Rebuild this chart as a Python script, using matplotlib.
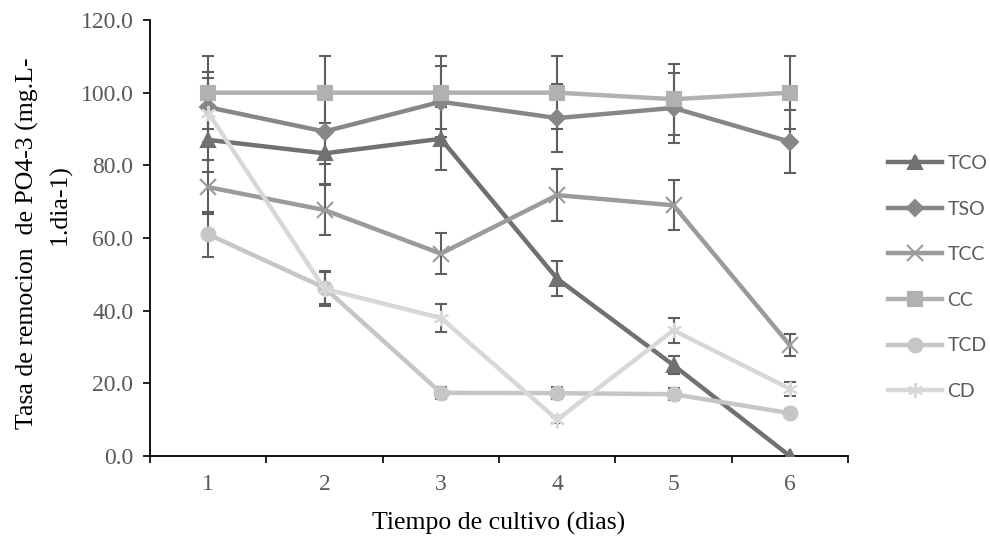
import matplotlib
matplotlib.use("Agg")
import matplotlib.pyplot as plt
import numpy as np

days = [1, 2, 3, 4, 5, 6]
day_labels = ["1", "2", "3", "4", "5", "6"]

TCO = [87.0, 83.3, 87.3, 48.8, 25.0, 0.0]
TSO = [96.0, 89.3, 97.5, 93.0, 95.8, 86.5]
TCC = [74.0, 67.7, 55.7, 71.8, 69.0, 30.5]
CC = [100.0, 100.0, 100.0, 100.0, 98.2, 100.0]
TCD = [61.0, 46.3, 17.4, 17.3, 17.0, 11.8]
CD = [94.5, 46.0, 38.0, 10.0, 34.6, 18.5]

TCO_err = [8.7, 8.3, 8.7, 4.9, 2.5, 0.0]
TSO_err = [9.6, 8.9, 9.8, 9.3, 9.6, 8.7]
TCC_err = [7.4, 6.8, 5.6, 7.2, 6.9, 3.1]
CC_err = [10.0, 10.0, 10.0, 10.0, 9.8, 10.0]
TCD_err = [6.1, 4.6, 1.7, 1.7, 1.7, 1.2]
CD_err = [9.5, 4.6, 3.8, 1.0, 3.5, 1.9]

names = ["TCO", "TSO", "TCC", "CC", "TCD", "CD"]
series = [TCO, TSO, TCC, CC, TCD, CD]
errors = [TCO_err, TSO_err, TCC_err, CC_err, TCD_err, CD_err]
colors = ["#717171", "#878787", "#9b9b9b", "#b1b1b1", "#c6c6c6", "#d8d8d8"]
markers = ["^", "D", "x", "s", "o", (6, 2, 0)]
msizes = [10, 8, 11, 10, 10, 11]

ylabel_line1 = "Tasa de remocion  de PO4-3 (mg.L-"
ylabel_line2 = "1.dia-1)"

fig = plt.figure(figsize=(9.9, 5.38), dpi=100)
ax = fig.add_axes([150/990, (538-456)/538, 698/990, 436/538])

ecol = "#5f5f5f"
for y, e in zip(series, errors):
    ax.errorbar(days, y, yerr=e, fmt="none", ecolor=ecol, elinewidth=1.5,
                capsize=4.5, capthick=1.5, zorder=2)

handles = []
for name, y, c, m, ms in zip(names, series, colors, markers, msizes):
    h, = ax.plot(days, y, color=c, lw=3.2, marker=m, markersize=ms,
                 markerfacecolor=c, markeredgecolor=c, markeredgewidth=1.5,
                 label=name, zorder=3)
    handles.append(h)

ax.set_xlim(0.5, 6.5)
ax.set_ylim(0, 120)
ax.set_yticks(np.arange(0, 121, 20))
ax.set_yticklabels([f"{v:.1f}" for v in np.arange(0, 121, 20)])
ax.set_xticks(days)
ax.set_xticklabels(day_labels)
ax.set_xticks(np.arange(0.5, 6.6, 1.0), minor=True)
ax.tick_params(axis="x", which="major", length=0, pad=13)
ax.tick_params(axis="x", which="minor", length=5, width=1.2, direction="out")
ax.tick_params(axis="y", length=5, width=1.2, direction="out", pad=7)

serif = ["Liberation Serif", "DejaVu Serif"]
for lab in ax.get_xticklabels() + ax.get_yticklabels():
    lab.set_fontfamily(serif)
    lab.set_fontsize(17)
    lab.set_color("#595959")

for s in ["top", "right"]:
    ax.spines[s].set_visible(False)
for s in ["left", "bottom"]:
    ax.spines[s].set_linewidth(1.3)
    ax.spines[s].set_color("black")

ax.set_xlabel("Tiempo de cultivo (dias)", fontfamily=serif, fontsize=18.5,
              color="black", labelpad=12)
fig.text(27/990, 1 - 243/538, ylabel_line1, rotation=90, ha="center",
         va="center", fontfamily=serif, fontsize=18.5, color="black")
fig.text(60/990, 1 - 205/538, ylabel_line2, rotation=90, ha="center",
         va="center", fontfamily=serif, fontsize=18.5, color="black")

leg = fig.legend(handles=handles, loc="center left",
                 bbox_to_anchor=(888/990, 1 - 277.5/538), frameon=False,
                 prop={"family": "Lato", "size": 14}, labelspacing=1.47,
                 handlelength=2.8, handletextpad=0.26, borderpad=0,
                 borderaxespad=0)
for t in leg.get_texts():
    t.set_color("#595959")

fig.savefig("out.png", dpi=100)
